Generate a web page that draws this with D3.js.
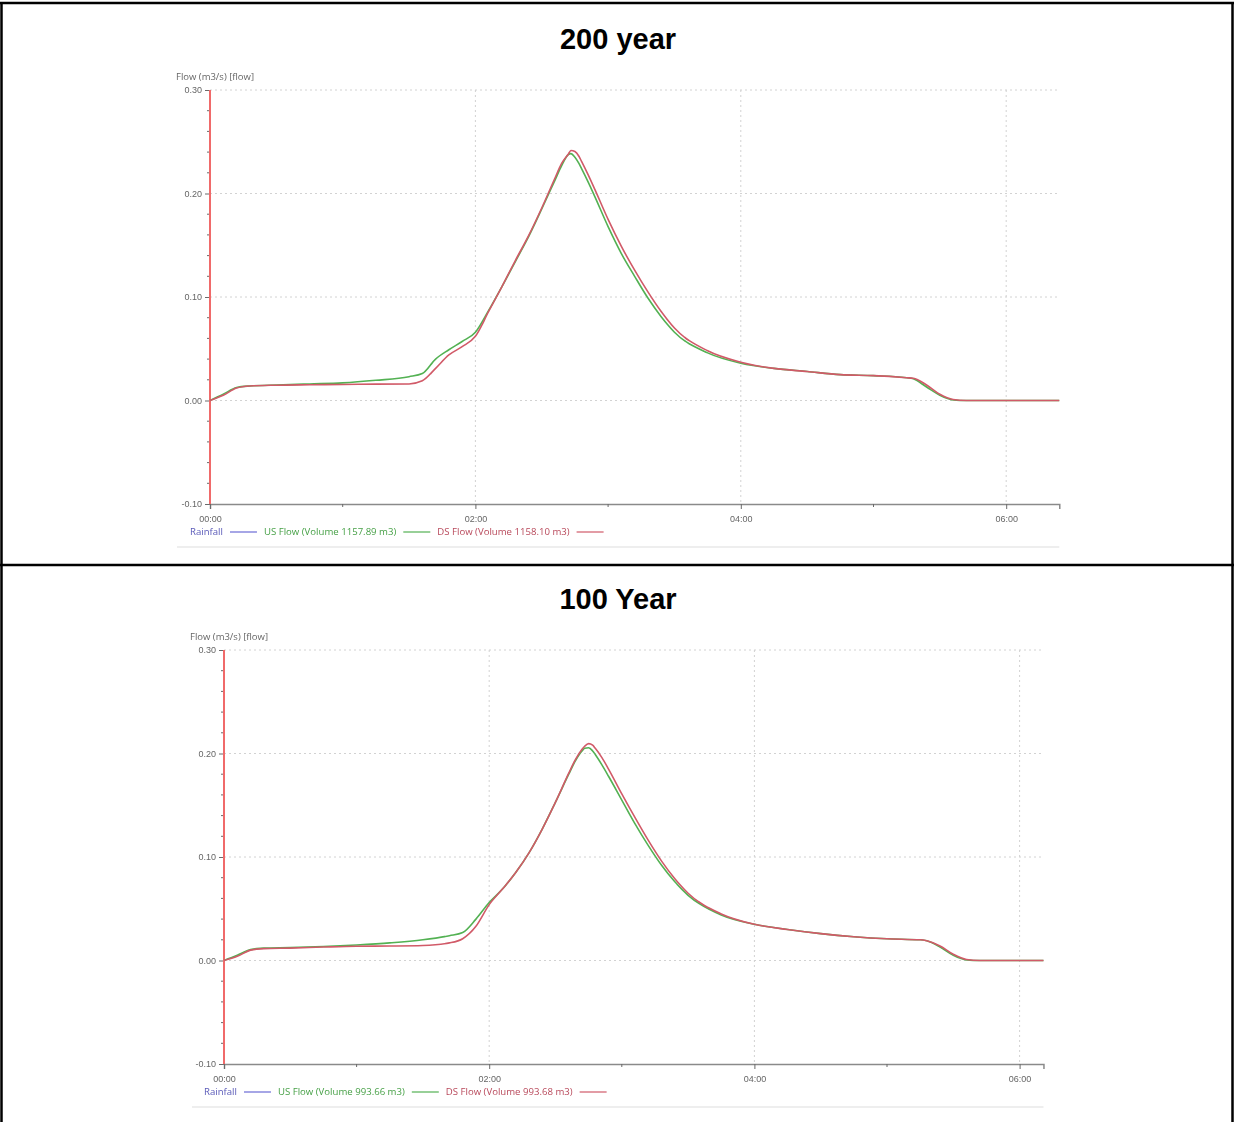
<!DOCTYPE html>
<html>
<head>
<meta charset="utf-8">
<script src="https://cdn.jsdelivr.net/npm/d3@7"></script>
<style>
  html, body { margin: 0; padding: 0; background: #fff; }
  svg { display: block; }
</style>
</head>
<body>
<svg id="page" width="1234" height="1122"></svg>
<script>
// ---- Data -------------------------------------------------------------
const chartTitles = ["200 year", "100 Year"];
const axisTitle = "Flow (m3/s) [flow]";

const yTickValues = [-0.10, 0.00, 0.10, 0.20, 0.30];
const yTickLabels = ["-0.10", "0.00", "0.10", "0.20", "0.30"];
const xTickHours = [0, 2, 4, 6];
const xTickLabels = ["00:00", "02:00", "04:00", "06:00"];
const xMinorHours = [1, 3, 5];

const legendNames200 = ["Rainfall", "US Flow (Volume 1157.89 m3)", "DS Flow (Volume 1158.10 m3)"];
const legendNames100 = ["Rainfall", "US Flow (Volume 993.66 m3)", "DS Flow (Volume 993.68 m3)"];

// 200 year event, time in hours, flow in m3/s
const hours200 = [0, 0.1, 0.2, 0.3, 0.5, 0.75, 1.0, 1.25, 1.5, 1.6, 1.7, 1.8, 1.9, 2.0, 2.1, 2.2, 2.3, 2.4, 2.5, 2.6, 2.65, 2.7, 2.72, 2.75, 2.78, 2.8, 2.85, 2.9, 3.0, 3.1, 3.2, 3.3, 3.4, 3.5, 3.75, 4.0, 4.25, 4.5, 4.75, 5.0, 5.25, 5.3, 5.4, 5.5, 5.6, 5.7, 6.4];
const usFlow200 = [0, 0.006, 0.0125, 0.014, 0.015, 0.016, 0.017, 0.0195, 0.023, 0.026, 0.040, 0.049, 0.057, 0.066, 0.087, 0.110, 0.134, 0.158, 0.185, 0.213, 0.227, 0.2375, 0.2385, 0.235, 0.229, 0.224, 0.211, 0.197, 0.168, 0.142, 0.120, 0.099, 0.081, 0.066, 0.046, 0.036, 0.031, 0.028, 0.025, 0.024, 0.022, 0.021, 0.013, 0.005, 0.0005, 0, 0];
const dsFlow200 = [0, 0.005, 0.012, 0.014, 0.0148, 0.0152, 0.0155, 0.0158, 0.016, 0.019, 0.031, 0.044, 0.052, 0.062, 0.086, 0.110, 0.135, 0.159, 0.186, 0.215, 0.229, 0.238, 0.2415, 0.2405, 0.236, 0.231, 0.218, 0.204, 0.175, 0.149, 0.126, 0.105, 0.086, 0.070, 0.048, 0.037, 0.031, 0.028, 0.025, 0.024, 0.022, 0.0215, 0.015, 0.006, 0.001, 0, 0];

// 100 year event
const hours100 = [0, 0.1, 0.2, 0.3, 0.5, 0.75, 1.0, 1.25, 1.5, 1.7, 1.8, 1.9, 2.0, 2.1, 2.2, 2.3, 2.4, 2.5, 2.6, 2.65, 2.7, 2.72, 2.75, 2.78, 2.8, 2.85, 2.9, 3.0, 3.1, 3.2, 3.3, 3.4, 3.5, 3.75, 4.0, 4.25, 4.5, 4.75, 5.0, 5.25, 5.3, 5.4, 5.5, 5.6, 5.7, 6.18];
const usFlow100 = [0, 0.005, 0.0105, 0.012, 0.0125, 0.0135, 0.015, 0.017, 0.020, 0.024, 0.027, 0.040, 0.056, 0.069, 0.085, 0.104, 0.127, 0.153, 0.180, 0.193, 0.2025, 0.205, 0.2055, 0.2025, 0.199, 0.189, 0.178, 0.155, 0.132, 0.111, 0.092, 0.076, 0.063, 0.044, 0.035, 0.030, 0.026, 0.023, 0.021, 0.020, 0.019, 0.013, 0.005, 0.0005, 0, 0];
const dsFlow100 = [0, 0.004, 0.010, 0.0115, 0.012, 0.013, 0.0138, 0.014, 0.0145, 0.017, 0.021, 0.033, 0.054, 0.069, 0.085, 0.104, 0.127, 0.153, 0.181, 0.194, 0.204, 0.207, 0.2095, 0.208, 0.205, 0.196, 0.185, 0.161, 0.138, 0.116, 0.096, 0.079, 0.065, 0.045, 0.035, 0.030, 0.026, 0.023, 0.021, 0.020, 0.019, 0.014, 0.006, 0.001, 0, 0];

// ---- Styling / layout -------------------------------------------------
const COLORS = { rain: "#6b6bd6", us: "#52b152", ds: "#d15a68", yAxis: "#f06a6a", xAxis: "#8a8a8a", grid: "#d2d2d2", tick: "#6a6a6a" };
const LEGEND_TEXT = ["#5a5ab8", "#46a046", "#b8485a"];

const svg = d3.select("#page");

// soft rendering for the chart bodies
svg.append("defs").append("filter").attr("id", "soft")
  .append("feGaussianBlur").attr("stdDeviation", 0.55);

// table frame
const frame = svg.append("g").attr("stroke", "#000").attr("stroke-width", 2.5);
frame.append("line").attr("x1", 0).attr("x2", 1234).attr("y1", 3).attr("y2", 3);
frame.append("line").attr("x1", 1.5).attr("x2", 1.5).attr("y1", 2).attr("y2", 1122);
frame.append("line").attr("x1", 1232.5).attr("x2", 1232.5).attr("y1", 2).attr("y2", 1122);
frame.append("line").attr("x1", 0).attr("x2", 1234).attr("y1", 565).attr("y2", 565);

const panels = [
  { title: chartTitles[0], titleY: 49, x0: 210, hourPx: 132.7, hMax: 6.4, yTop: 90, yBot: 504,
    hours: hours200, us: usFlow200, ds: dsFlow200, legend: legendNames200, legendX: 190, sepX0: 177 },
  { title: chartTitles[1], titleY: 609, x0: 224, hourPx: 132.6, hMax: 6.18, yTop: 650, yBot: 1064,
    hours: hours100, us: usFlow100, ds: dsFlow100, legend: legendNames100, legendX: 204, sepX0: 192 }
];

panels.forEach(p => {
  svg.append("text")
    .attr("x", 618).attr("y", p.titleY)
    .attr("text-anchor", "middle")
    .attr("font-family", "Liberation Sans, Arial, sans-serif")
    .attr("font-weight", "bold").attr("font-size", 29)
    .text(p.title);

  const x = d3.scaleLinear().domain([0, p.hMax]).range([p.x0, p.x0 + p.hourPx * p.hMax]);
  const y = d3.scaleLinear().domain([-0.10, 0.30]).range([p.yBot, p.yTop]);
  const xEnd = x(p.hMax);

  const g = svg.append("g").attr("filter", "url(#soft)")
    .attr("font-family", "Open Sans, DejaVu Sans, sans-serif");

  // grid
  const grid = g.append("g").attr("stroke", COLORS.grid).attr("stroke-width", 1).attr("stroke-dasharray", "2,3");
  grid.selectAll("line.h").data(yTickValues.filter(v => v > -0.1)).join("line")
    .attr("x1", x(0)).attr("x2", xEnd).attr("y1", d => y(d)).attr("y2", d => y(d));
  grid.selectAll("line.v").data(xTickHours.filter(h => h > 0)).join("line")
    .attr("x1", d => x(d)).attr("x2", d => x(d)).attr("y1", y(0.30)).attr("y2", y(-0.10));

  // y axis
  const yAxis = d3.axisLeft(y).tickValues(yTickValues)
    .tickFormat((d, i) => yTickLabels[i]).tickSize(5).tickPadding(3);
  const ya = g.append("g").attr("transform", `translate(${x(0)},0)`).call(yAxis);
  ya.select(".domain").remove();
  ya.selectAll(".tick line").attr("stroke", COLORS.tick);
  ya.selectAll(".tick text").attr("fill", "#666").attr("font-size", 9);
  const minor = d3.range(-0.10, 0.3001, 0.02).filter(v => Math.abs(Math.round(v * 100) % 10) !== 0);
  g.append("g").selectAll("line").data(minor).join("line")
    .attr("x1", x(0) - 3).attr("x2", x(0)).attr("y1", d => y(d)).attr("y2", d => y(d))
    .attr("stroke", COLORS.tick);

  // x axis
  const xAxis = d3.axisBottom(x).tickValues(xTickHours)
    .tickFormat((d, i) => xTickLabels[i]).tickSize(5).tickPadding(7);
  const xa = g.append("g").attr("transform", `translate(0,${y(-0.10)})`).call(xAxis);
  xa.select(".domain").attr("stroke", COLORS.xAxis).attr("stroke-width", 1.5);
  xa.selectAll(".tick line").attr("stroke", COLORS.tick);
  xa.selectAll(".tick text").attr("fill", "#666").attr("font-size", 9);
  g.append("g").selectAll("line").data(xMinorHours).join("line")
    .attr("x1", d => x(d)).attr("x2", d => x(d)).attr("y1", y(-0.10)).attr("y2", y(-0.10) + 3)
    .attr("stroke", COLORS.tick);

  // vertical axis line in red
  g.append("line").attr("x1", x(0)).attr("x2", x(0)).attr("y1", y(0.30)).attr("y2", y(-0.10))
    .attr("stroke", COLORS.yAxis).attr("stroke-width", 2);

  g.append("text").attr("x", p.x0 - 34).attr("y", p.yTop - 10)
    .attr("font-size", 9.5).attr("fill", "#666").text(axisTitle);

  // series
  const line = d3.line().x(d => x(d[0])).y(d => y(d[1])).curve(d3.curveMonotoneX);
  g.append("path").datum(p.hours.map((h, i) => [h, p.us[i]]))
    .attr("d", line).attr("fill", "none").attr("stroke", COLORS.us).attr("stroke-width", 1.6);
  g.append("path").datum(p.hours.map((h, i) => [h, p.ds[i]]))
    .attr("d", line).attr("fill", "none").attr("stroke", COLORS.ds).attr("stroke-width", 1.6);

  // legend
  const legY = y(-0.10) + 31;
  const legColors = [COLORS.rain, COLORS.us, COLORS.ds];
  let lx = p.legendX;
  p.legend.forEach((name, i) => {
    const t = g.append("text").attr("x", lx).attr("y", legY)
      .attr("font-size", 9.6).attr("fill", LEGEND_TEXT[i]).text(name);
    lx += t.node().getComputedTextLength() + 7;
    g.append("line").attr("x1", lx).attr("x2", lx + 27).attr("y1", legY - 3).attr("y2", legY - 3)
      .attr("stroke", legColors[i]).attr("stroke-width", 1.2);
    lx += 34;
  });

  // separator under the legend
  g.append("rect").attr("x", p.sepX0).attr("y", legY + 11).attr("width", xEnd - p.sepX0).attr("height", 2)
    .attr("fill", "#eeeeee");
});
</script>
</body>
</html>
